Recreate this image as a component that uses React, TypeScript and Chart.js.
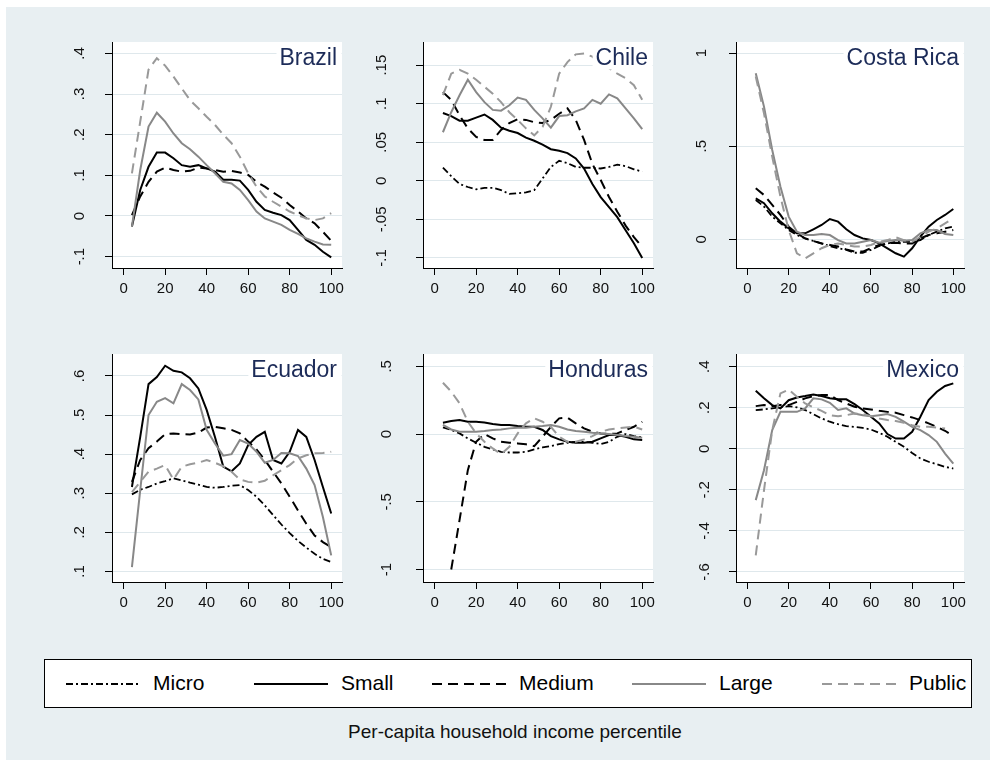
import React, { useEffect, useRef } from 'react';
import { Chart, registerables } from 'chart.js';
Chart.register(...registerables);

// ---------- DATA ----------
const PCT = [4, 8, 12, 16, 20, 24, 28, 32, 36, 40, 44, 48, 52, 56, 60, 64, 68, 72, 76, 80, 84, 88, 92, 96, 100];
const X_TICKS = [0, 20, 40, 60, 80, 100];
const SERIES_NAMES = ['Micro', 'Small', 'Medium', 'Large', 'Public'];
const X_TITLE = 'Per-capita household income percentile';

const BRAZIL_SMALL = [-0.026, 0.064, 0.121, 0.156, 0.156, 0.142, 0.125, 0.121, 0.125, 0.117, 0.109, 0.089, 0.089, 0.087, 0.064, 0.035, 0.015, 0.008, 0.002, -0.01, -0.034, -0.059, -0.071, -0.088, -0.102];
const BRAZIL_MEDIUM = [0.002, 0.048, 0.084, 0.109, 0.119, 0.113, 0.109, 0.111, 0.119, 0.117, 0.113, 0.109, 0.111, 0.107, 0.101, 0.084, 0.072, 0.058, 0.045, 0.027, 0.011, -0.006, -0.018, -0.039, -0.061];
const BRAZIL_LARGE = [-0.026, 0.113, 0.22, 0.254, 0.232, 0.203, 0.179, 0.164, 0.146, 0.125, 0.105, 0.084, 0.08, 0.064, 0.039, 0.011, -0.006, -0.014, -0.022, -0.034, -0.044, -0.055, -0.063, -0.07, -0.071];
const BRAZIL_PUBLIC = [0.105, 0.232, 0.36, 0.388, 0.37, 0.343, 0.314, 0.285, 0.265, 0.244, 0.224, 0.2, 0.179, 0.146, 0.105, 0.072, 0.048, 0.035, 0.023, 0.011, 0.002, -0.006, -0.01, -0.006, 0.007];

const CHILE_MICRO = [0.017, 0.006, -0.004, -0.008, -0.011, -0.009, -0.009, -0.012, -0.017, -0.016, -0.015, -0.012, 0.003, 0.018, 0.026, 0.023, 0.018, 0.017, 0.017, 0.016, 0.018, 0.021, 0.019, 0.015, 0.012];
const CHILE_SMALL = [0.088, 0.084, 0.078, 0.078, 0.082, 0.086, 0.079, 0.069, 0.065, 0.062, 0.056, 0.052, 0.047, 0.041, 0.039, 0.036, 0.029, 0.016, -0.004, -0.021, -0.034, -0.047, -0.064, -0.081, -0.1];
const CHILE_MEDIUM = [0.115, 0.105, 0.085, 0.068, 0.057, 0.053, 0.053, 0.066, 0.075, 0.08, 0.079, 0.076, 0.075, 0.079, 0.087, 0.094, 0.079, 0.053, 0.022, 0.001, -0.021, -0.04, -0.058, -0.073, -0.086];
const CHILE_LARGE = [0.063, 0.089, 0.111, 0.131, 0.115, 0.102, 0.092, 0.091, 0.098, 0.108, 0.105, 0.092, 0.081, 0.069, 0.084, 0.085, 0.09, 0.094, 0.105, 0.1, 0.112, 0.107, 0.094, 0.081, 0.067];
const CHILE_PUBLIC = [0.111, 0.139, 0.144, 0.139, 0.131, 0.122, 0.113, 0.102, 0.089, 0.079, 0.068, 0.059, 0.07, 0.096, 0.139, 0.154, 0.164, 0.165, 0.161, 0.152, 0.146, 0.139, 0.133, 0.124, 0.105];

const COSTA_MICRO = [0.211, 0.176, 0.122, 0.086, 0.05, 0.023, 0.005, -0.009, -0.022, -0.036, -0.048, -0.057, -0.072, -0.072, -0.057, -0.036, -0.022, -0.013, -0.013, -0.013, -0.004, 0.023, 0.041, 0.059, 0.068];
const COSTA_SMALL = [0.22, 0.194, 0.14, 0.095, 0.059, 0.032, 0.032, 0.054, 0.077, 0.109, 0.095, 0.054, 0.023, 0.005, -0.004, -0.022, -0.048, -0.075, -0.093, -0.048, 0.014, 0.068, 0.104, 0.131, 0.163];
const COSTA_MEDIUM = [0.274, 0.238, 0.185, 0.131, 0.068, 0.032, 0.005, -0.009, -0.022, -0.03, -0.039, -0.054, -0.066, -0.066, -0.048, -0.03, -0.022, -0.018, -0.022, -0.022, 0.005, 0.023, 0.032, 0.041, 0.05];
const COSTA_LARGE = [0.892, 0.713, 0.48, 0.283, 0.122, 0.041, 0.023, 0.023, 0.029, 0.023, -0.004, -0.022, -0.022, -0.013, -0.004, -0.018, -0.009, -0.004, -0.007, -0.004, 0.032, 0.05, 0.05, 0.029, 0.023];
const COSTA_PUBLIC = [0.875, 0.677, 0.444, 0.229, 0.05, -0.075, -0.102, -0.075, -0.048, -0.03, -0.022, -0.03, -0.039, -0.039, -0.03, -0.013, -0.004, 0.011, -0.004, -0.013, 0.014, 0.041, 0.059, 0.086, 0.113];

const ECUADOR_MICRO = [0.297, 0.309, 0.316, 0.325, 0.331, 0.338, 0.333, 0.327, 0.322, 0.316, 0.314, 0.316, 0.319, 0.321, 0.308, 0.291, 0.269, 0.244, 0.22, 0.198, 0.178, 0.161, 0.145, 0.132, 0.124];
const ECUADOR_SMALL = [0.316, 0.444, 0.579, 0.597, 0.626, 0.613, 0.609, 0.594, 0.568, 0.513, 0.444, 0.368, 0.356, 0.376, 0.423, 0.444, 0.457, 0.385, 0.376, 0.406, 0.462, 0.444, 0.385, 0.316, 0.248];
const ECUADOR_MEDIUM = [0.329, 0.385, 0.415, 0.432, 0.451, 0.453, 0.451, 0.45, 0.455, 0.468, 0.47, 0.466, 0.462, 0.453, 0.432, 0.412, 0.385, 0.355, 0.325, 0.291, 0.256, 0.222, 0.192, 0.175, 0.162];
const ECUADOR_LARGE = [0.111, 0.308, 0.5, 0.534, 0.543, 0.53, 0.579, 0.564, 0.54, 0.462, 0.427, 0.396, 0.4, 0.436, 0.427, 0.406, 0.378, 0.385, 0.403, 0.402, 0.395, 0.363, 0.321, 0.239, 0.141];
const ECUADOR_PUBLIC = [0.303, 0.329, 0.355, 0.363, 0.372, 0.335, 0.368, 0.374, 0.378, 0.385, 0.378, 0.369, 0.355, 0.335, 0.329, 0.327, 0.332, 0.346, 0.359, 0.372, 0.389, 0.397, 0.402, 0.403, 0.406];

const HONDURAS_MICRO = [0.049, 0.03, 0.005, -0.032, -0.064, -0.094, -0.113, -0.131, -0.136, -0.136, -0.131, -0.113, -0.099, -0.089, -0.074, -0.064, -0.057, -0.057, -0.064, -0.074, -0.057, -0.02, 0, -0.015, -0.025];
const HONDURAS_SMALL = [0.084, 0.096, 0.104, 0.091, 0.091, 0.086, 0.074, 0.067, 0.067, 0.059, 0.054, 0.054, 0.03, -0.015, -0.039, -0.057, -0.064, -0.064, -0.057, -0.032, -0.007, -0.007, -0.02, -0.039, -0.044];
const HONDURAS_MEDIUM = [null, -1.0, -0.635, -0.266, -0.057, 0, -0.032, -0.057, -0.064, -0.069, -0.076, -0.089, -0.02, 0.054, 0.116, 0.121, 0.079, 0.042, 0.017, 0.005, 0, 0.005, 0.03, 0.054, 0.091];
const HONDURAS_LARGE = [0.067, 0.034, 0.017, 0.017, 0.017, 0.022, 0.03, 0.034, 0.042, 0.047, 0.047, 0.054, 0.059, 0.067, 0.054, 0.034, 0.022, 0.017, 0.01, 0.005, 0, -0.007, -0.015, -0.02, -0.027];
const HONDURAS_PUBLIC = [0.379, 0.313, 0.227, 0.091, 0.005, -0.057, -0.106, -0.148, -0.094, 0.005, 0.079, 0.116, 0.091, 0.054, -0.02, -0.057, -0.057, -0.039, -0.015, 0.017, 0.034, 0.042, 0.049, 0.054, 0.034];

const MEXICO_MICRO = [0.189, 0.192, 0.197, 0.202, 0.208, 0.202, 0.189, 0.169, 0.148, 0.132, 0.12, 0.111, 0.107, 0.102, 0.094, 0.078, 0.059, 0.034, 0.01, -0.02, -0.047, -0.063, -0.075, -0.088, -0.096];
const MEXICO_SMALL = [0.283, 0.246, 0.213, 0.197, 0.237, 0.25, 0.257, 0.265, 0.257, 0.246, 0.241, 0.241, 0.218, 0.189, 0.156, 0.124, 0.072, 0.05, 0.05, 0.083, 0.156, 0.237, 0.278, 0.306, 0.319];
const MEXICO_MEDIUM = [0.208, 0.213, 0.208, 0.213, 0.213, 0.229, 0.246, 0.257, 0.262, 0.262, 0.237, 0.221, 0.205, 0.197, 0.192, 0.185, 0.18, 0.176, 0.164, 0.153, 0.14, 0.124, 0.107, 0.088, 0.062];
const MEXICO_LARGE = [-0.25, -0.104, 0.091, 0.18, 0.18, 0.18, 0.197, 0.246, 0.241, 0.224, 0.189, 0.197, 0.172, 0.164, 0.159, 0.164, 0.169, 0.156, 0.132, 0.107, 0.091, 0.067, 0.034, -0.023, -0.072];
const MEXICO_PUBLIC = [-0.519, -0.202, 0.091, 0.27, 0.289, 0.254, 0.221, 0.202, 0.185, 0.164, 0.159, 0.164, 0.172, 0.169, 0.159, 0.148, 0.14, 0.135, 0.127, 0.115, 0.107, 0.107, 0.104, 0.099, null];

const BRAZIL_Y_TICKS = [-0.1, 0, 0.1, 0.2, 0.3, 0.4];
const CHILE_Y_TICKS = [-0.1, -0.05, 0, 0.05, 0.1, 0.15];
const COSTA_Y_TICKS = [0, 0.5, 1];
const ECUADOR_Y_TICKS = [0.1, 0.2, 0.3, 0.4, 0.5, 0.6];
const HONDURAS_Y_TICKS = [-1, -0.5, 0, 0.5];
const MEXICO_Y_TICKS = [-0.6, -0.4, -0.2, 0, 0.2, 0.4];

const PANELS = [
  { name: 'Brazil', series: [null, BRAZIL_SMALL, BRAZIL_MEDIUM, BRAZIL_LARGE, BRAZIL_PUBLIC], yTicks: BRAZIL_Y_TICKS, yMin: -0.128, yMax: 0.428 },
  { name: 'Chile', series: [CHILE_MICRO, CHILE_SMALL, CHILE_MEDIUM, CHILE_LARGE, CHILE_PUBLIC], yTicks: CHILE_Y_TICKS, yMin: -0.113, yMax: 0.18 },
  { name: 'Costa Rica', series: [COSTA_MICRO, COSTA_SMALL, COSTA_MEDIUM, COSTA_LARGE, COSTA_PUBLIC], yTicks: COSTA_Y_TICKS, yMin: -0.154, yMax: 1.06 },
  { name: 'Ecuador', series: [ECUADOR_MICRO, ECUADOR_SMALL, ECUADOR_MEDIUM, ECUADOR_LARGE, ECUADOR_PUBLIC], yTicks: ECUADOR_Y_TICKS, yMin: 0.073, yMax: 0.656 },
  { name: 'Honduras', series: [HONDURAS_MICRO, HONDURAS_SMALL, HONDURAS_MEDIUM, HONDURAS_LARGE, HONDURAS_PUBLIC], yTicks: HONDURAS_Y_TICKS, yMin: -1.092, yMax: 0.591 },
  { name: 'Mexico', series: [MEXICO_MICRO, MEXICO_SMALL, MEXICO_MEDIUM, MEXICO_LARGE, MEXICO_PUBLIC], yTicks: MEXICO_Y_TICKS, yMin: -0.649, yMax: 0.462 },
];

// ---------- STYLE / LAYOUT ----------
const FONT = '"Liberation Sans", Arial, Helvetica, sans-serif';
const BG = '#e8eff2';
const GRID = '#dfe8ec';
const TITLE_COLOR = '#1c2b58';
const STYLES = [
  { color: '#000000', dash: [7, 3, 2, 3], width: 1.8 },
  { color: '#000000', dash: [], width: 2 },
  { color: '#000000', dash: [10, 6], width: 2 },
  { color: '#888888', dash: [], width: 2 },
  { color: '#999999', dash: [10, 6], width: 2 },
];
const COL_LEFT = [112, 423, 736];
const COL_RIGHT = [342, 653, 964];
const ROW_TOP = [42, 354];
const ROW_BOTTOM = [268, 582];
const LABEL_DIST = [32, 41, 34, 32, 36, 31];
const X_MIN = -5.6;
const X_MAX = 105.2;
const PADL = 70, PADT = 4, PADR = 4, PADB = 46;
const TICK_LEN = 7;

const fmt = (v: number) => {
  if (Math.abs(v) < 1e-9) return '0';
  const s = String(+v.toFixed(3));
  return s.replace(/^(-?)0\./, '$1.');
};

function Panel({ idx }: { idx: number }) {
  const ref = useRef<HTMLCanvasElement | null>(null);
  const p = PANELS[idx];
  const col = idx % 3, row = Math.floor(idx / 3);
  const left = COL_LEFT[col], right = COL_RIGHT[col], top = ROW_TOP[row], bottom = ROW_BOTTOM[row];
  const W = right - left + PADL + PADR;
  const H = bottom - top + PADT + PADB;

  useEffect(() => {
    const m = document.createElement('canvas').getContext('2d')!;
    m.font = `15px ${FONT}`;
    const widest = Math.max(...p.yTicks.map((v) => m.measureText(fmt(v)).width));

    const bgPlugin = {
      id: 'bg',
      beforeDraw(chart: any) {
        const { ctx, chartArea: a } = chart;
        ctx.save();
        ctx.fillStyle = '#ffffff';
        ctx.fillRect(a.left, a.top, a.right - a.left, a.bottom - a.top);
        ctx.restore();
      },
    };
    const titlePlugin = {
      id: 'paneltitle',
      afterDatasetsDraw(chart: any) {
        const { ctx, chartArea: a } = chart;
        ctx.save();
        ctx.font = `23px ${FONT}`;
        const tw = ctx.measureText(p.name).width;
        const xr = a.right - 5;
        ctx.fillStyle = '#ffffff';
        ctx.fillRect(xr - tw - 3, a.top + 0.5, a.right - (xr - tw - 3) - 0.5, 27);
        ctx.fillStyle = TITLE_COLOR;
        ctx.textAlign = 'right';
        ctx.textBaseline = 'alphabetic';
        ctx.fillText(p.name, xr, a.top + 22.5);
        ctx.restore();
      },
    };

    const datasets = p.series
      .map((arr, i) => ({ arr, i }))
      .filter((d) => d.arr)
      .map(({ arr, i }) => ({
        label: SERIES_NAMES[i],
        data: PCT.map((x, k) => ({ x, y: (arr as any)[k] })),
        borderColor: STYLES[i].color,
        borderDash: STYLES[i].dash,
        borderWidth: STYLES[i].width,
        pointRadius: 0,
        tension: 0,
        fill: false,
        spanGaps: false,
        order: 5 - i,
      }));

    const chart = new Chart(ref.current!, {
      type: 'line',
      data: { datasets },
      options: {
        animation: false,
        responsive: false,
        maintainAspectRatio: false,
        devicePixelRatio: 1,
        layout: { padding: { left: 0, top: PADT, right: PADR, bottom: 0 } },
        plugins: { legend: { display: false }, tooltip: { enabled: false }, title: { display: false } },
        scales: {
          x: {
            type: 'linear',
            min: X_MIN,
            max: X_MAX,
            afterBuildTicks: (s: any) => { s.ticks = X_TICKS.map((v) => ({ value: v })); },
            afterFit: (s: any) => { s.height = PADB; s.paddingLeft = 0; s.paddingRight = 0; s.paddingTop = 0; s.paddingBottom = 0; },
            grid: { drawOnChartArea: false, drawTicks: true, tickLength: TICK_LEN, tickColor: '#000', tickWidth: 1 },
            border: { display: true, color: '#000', width: 1 },
            ticks: { font: { family: FONT, size: 15 }, color: '#111', padding: 5, minRotation: 0, maxRotation: 0, autoSkip: false, callback: (v: any) => String(v) },
          },
          y: {
            type: 'linear',
            min: p.yMin,
            max: p.yMax,
            afterBuildTicks: (s: any) => { s.ticks = p.yTicks.map((v) => ({ value: v })); },
            afterFit: (s: any) => { s.width = PADL; s.paddingTop = 0; s.paddingBottom = 0; s.paddingLeft = 0; s.paddingRight = 0; },
            grid: { color: GRID, lineWidth: 1, drawTicks: true, tickLength: TICK_LEN, tickColor: '#000', tickWidth: 1 },
            border: { display: true, color: '#000', width: 1 },
            ticks: {
              font: { family: FONT, size: 15 }, color: '#111', minRotation: 90, maxRotation: 90,
              crossAlign: 'center', padding: LABEL_DIST[idx] - TICK_LEN - widest / 2, autoSkip: false,
              callback: (v: any) => fmt(Number(v)),
            },
          },
        },
      } as any,
      plugins: [bgPlugin, titlePlugin],
    });
    return () => chart.destroy();
  }, []);

  return (
    <canvas
      ref={ref}
      width={W}
      height={H}
      style={{ position: 'absolute', left: left - PADL, top: top - PADT, width: W, height: H }}
    />
  );
}

const LEGEND_TEXT_X = [152, 340, 518, 718, 908];

function Legend() {
  return (
    <div style={{ position: 'absolute', left: 44, top: 659, width: 928, height: 49, boxSizing: 'border-box', border: '1px solid #000', background: '#fff', overflow: 'hidden' }}>
      {SERIES_NAMES.map((name, i) => {
        const tx = LEGEND_TEXT_X[i] - 44;
        return (
          <React.Fragment key={name}>
            <svg width={74} height={10} style={{ position: 'absolute', left: tx - 87, top: 19 }}>
              <line x1={0} y1={5} x2={74} y2={5} stroke={STYLES[i].color} strokeWidth={STYLES[i].width} strokeDasharray={STYLES[i].dash.join(' ')} />
            </svg>
            <span style={{ position: 'absolute', left: tx, top: 12, fontFamily: FONT, fontSize: 21, lineHeight: '22px', color: '#000', whiteSpace: 'nowrap' }}>{name}</span>
          </React.Fragment>
        );
      })}
    </div>
  );
}

export default function App() {
  return (
    <div style={{ position: 'absolute', left: 0, top: 0, width: 990, height: 760, background: '#fff', overflow: 'hidden' }}>
      <div style={{ position: 'absolute', left: 6, top: 7, width: 984, height: 753, background: BG }} />
      {PANELS.map((_, i) => <Panel key={i} idx={i} />)}
      <Legend />
      <div style={{ position: 'absolute', left: 0, width: 1030, top: 721, textAlign: 'center', fontFamily: FONT, fontSize: 19, color: '#111', whiteSpace: 'nowrap' }}>{X_TITLE}</div>
    </div>
  );
}
